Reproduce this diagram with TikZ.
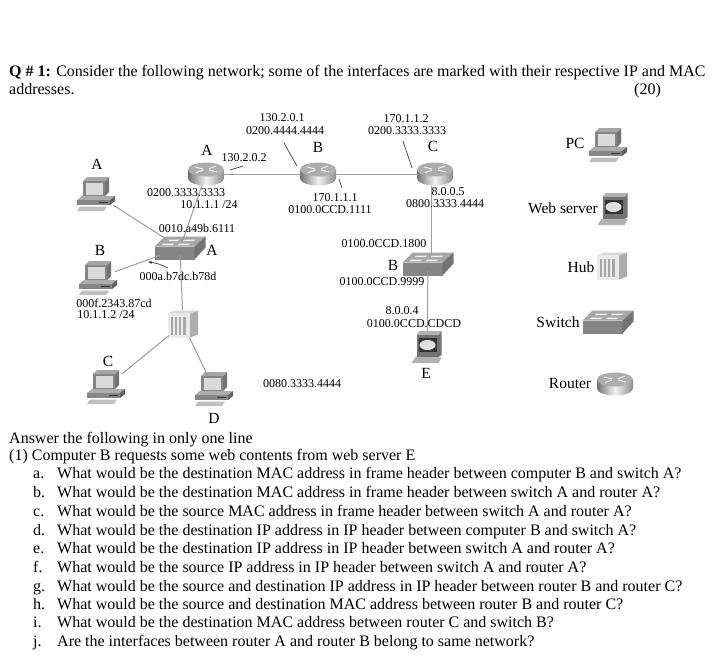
\documentclass[tikz,border=0pt]{standalone}
\usepackage{fontspec}
\setmainfont{Liberation Serif}
\usetikzlibrary{arrows.meta}
\tikzset{
  pcicon/.pic={
    \begin{scope}[shift={(-19,-17)}]
    \fill[black!55] (28,4) -- (32,0) -- (32,15) -- (28,19) -- cycle;
    \fill[black!35] (6,4) -- (10,0) -- (32,0) -- (28,4) -- cycle;
    \fill[black!48] (6,4) rectangle (28,19);
    \fill[black!15] (8.5,6) rectangle (26,17.5);
    \fill[black!32] (0,23) -- (5,19) -- (38,19) -- (33,23) -- cycle;
    \fill[black!48] (0,23) rectangle (33,28);
    \fill[black!62] (33,23) -- (38,19) -- (38,24) -- (33,28) -- cycle;
    \fill[black!80] (22,24.5) rectangle (31,25.5);
    \fill[black!25] (3,29.5) -- (30,29.5) -- (27,34) -- (0,34) -- cycle;
    \end{scope}
  },
  srvicon/.pic={
    \begin{scope}[shift={(-15.5,-16)}]
    \fill[black!55] (27,4) -- (30,0) -- (30,24) -- (27,26) -- cycle;
    \fill[black!30] (5,4) -- (8,0) -- (30,0) -- (27,4) -- cycle;
    \fill[black!55] (5,4) rectangle (27,26);
    \fill[black!80] (7,7) rectangle (25,21);
    \fill[black!12] (16,14) ellipse [x radius=8,y radius=5];
    \fill[black!30] (0,32) -- (4,26) -- (30,26) -- (27,32) -- cycle;
    \end{scope}
  },
  hubicon/.pic={
    \begin{scope}[shift={(-15,-13.5)}]
    \fill[black!32] (22,3) -- (30,0) -- (30,24) -- (22,27) -- cycle;
    \fill[black!15] (0,3) -- (6,0) -- (30,0) -- (22,3) -- cycle;
    \fill[black!8] (0,3) rectangle (22,27);
    \fill[black!35] (3,6) rectangle (18,24);
    \foreach \x in {5,9,13} {
      \fill[black!8] (\x,6) rectangle +(2,18);
    }
    \end{scope}
  },
  swicon/.pic={
    \begin{scope}[shift={(-25.5,-11.5)}]
    \fill[black!48] (0,10) rectangle (40,23);
    \fill[black!35] (0,10) -- (10,0) -- (51,0) -- (40,10) -- cycle;
    \fill[black!55] (40,10) -- (51,0) -- (51,11) -- (40,23) -- cycle;
    \foreach \x/\y in {14/3,30/3,9/7,25/7} {
      \fill[black!5] (\x,\y) -- +(11,0) -- +(9,1.5) -- +(-2,1.5) -- cycle;
    }
    \end{scope}
  },
  rtricon/.pic={
    \shade[left color=black!55,right color=black!45,middle color=black!5]
      (-18,-4.5) -- (-18,4.5) arc [start angle=180,end angle=0,x radius=18,y radius=7]
      -- (18,-4.5) -- cycle;
    \fill[black!32] (0,-4.5) ellipse [x radius=18,y radius=7];
    \draw[black!5,line width=1] (-11,-7) -- (-3,-5) (11,-2) -- (3,-4)
      (-10,-1.5) -- (-3,-3.8) (10,-8) -- (3,-5.5);
  },
  pcbox/.style={minimum width=34,minimum height=26,inner sep=0},
  srvbox/.style={minimum width=26,minimum height=30,inner sep=0},
  hubbox/.style={minimum width=28,minimum height=27,inner sep=0},
  swbox/.style={minimum width=44,minimum height=14,inner sep=0},
  rtrbox/.style={minimum width=34,minimum height=22,inner sep=0}
}
\begin{document}
\begin{tikzpicture}[x=1pt,y=-1pt,
  lbl/.style={inner sep=0,font=\fontsize{12}{13}\selectfont},
  let/.style={inner sep=0,font=\fontsize{15.5}{16}\selectfont},
  txt/.style={inner sep=0,anchor=base west,font=\fontsize{16}{18}\selectfont},
  lnk/.style={draw=black!38,line width=1},
  tck/.style={draw=black!75,line width=0.7}]
\useasboundingbox[fill=white] (0,0) rectangle (720,657);
\foreach \n/\x/\y in {pcA/96/194,pcB/98/278,pcC/106/387,pcD/214/389,lgPC/608/145} {
  \node[pcbox] (\n) at (\x,\y) {};
  \pic at (\n) {pcicon};
}
\foreach \n/\x/\y in {srvE/427/347,lgSrv/613/209} {
  \node[srvbox] (\n) at (\x,\y) {};
  \pic at (\n) {srvicon};
}
\foreach \n/\x/\y in {hubA/183/324,lgHub/612/266} {
  \node[hubbox] (\n) at (\x,\y) {};
  \pic at (\n) {hubicon};
}
\foreach \n/\x/\y in {swA/180/248,swB/428/264,lgSw/608/322} {
  \node[swbox] (\n) at (\x,\y) {};
  \pic at (\n) {swicon};
}
\foreach \n/\x/\y in {rtrA/206/174,rtrB/318/174,rtrC/435/174,lgRtr/615/384} {
  \node[rtrbox] (\n) at (\x,\y) {};
  \pic at (\n) {rtricon};
}
\coordinate (rtrCs) at (431,186);
\coordinate (swBn) at (431,256);
\draw[lnk] (pcA) -- (swA);
\draw[lnk] (pcB) -- (swA);
\draw[lnk] (rtrA) -- (swA);
\draw[lnk] (swA) -- (hubA);
\draw[lnk] (hubA) -- (pcC);
\draw[lnk] (hubA) -- (pcD);
\draw[lnk] (rtrA) -- (rtrB);
\draw[lnk] (rtrB) -- (rtrC);
\draw[lnk] (rtrCs) -- (swBn);
\draw[lnk] (swB) -- (srvE);
\foreach \n/\xa/\ya/\xb/\yb in {tkA/230/170/243/166,tkB/284/143/297/166,tkC/403/141/412/168,tkD/339/179/342/188} {
  \coordinate (\n a) at (\xa,\ya);
  \coordinate (\n b) at (\xb,\yb);
  \draw[tck] (\n a) -- (\n b);
}
\coordinate (arwS) at (168,268);
\coordinate (arwE) at (148,262);
\draw[tck,-{Stealth[length=4]}] (arwS) to[bend right=10] (arwE);
\foreach \n/\x/\y/\t in {%
  la/282/118/130.2.0.1,lb/285/131/0200.4444.4444,lc/406/119/170.1.1.2,ld/407/131/0200.3333.3333,%
  le/244/158/130.2.0.2,lf/186/193/0200.3333.3333,lg/209/205/{10.1.1.1 /24},lh/197/228/0010.a49b.6111,%
  li/178/276/000a.b7dc.b78d,lj/114/303/000f.2343.87cd,lk/106/315/{10.1.1.2 /24},%
  ll/335/198/170.1.1.1,lm/330/210/0100.0CCD.1111,ln/448/192/8.0.0.5,lo/445/204/0800.3333.4444,%
  lp/384/244/0100.0CCD.1800,lq/382/282/0100.0CCD.9999,lr/402/311/8.0.0.4,ls/414/324/0100.0CCD.CDCD,%
  lt/302/384/0080.3333.4444} {
  \node[lbl] (\n) at (\x,\y) {\t};
}
\foreach \n/\x/\y/\t in {%
  ta/207/150/A,tb/318/147/B,tc/433/146/C,td/97/164/A,te/212/250/A,tf/100/250/B,tg/393/265/B,%
  th/108/361/C,ti/214/418/D,tj/426/373/E,%
  lgA/575/143/PC,lgB/563/208/Web server,lgC/581/267/Hub,lgD/558/322/Switch,lgE/570/383/Router} {
  \node[let] (\n) at (\x,\y) {\t};
}
\node[txt] (qa) at (9,76) {\textbf{Q \# 1:} Consider the following network; some of the interfaces are marked with their respective IP and MAC};
\node[txt] (qb) at (9,94) {addresses.};
\node[txt] (qc) at (634,94) {(20)};
\node[txt] (qd) at (9,443) {Answer the following in only one line};
\node[txt] (qe) at (9,460) {(1) Computer B requests some web contents from web server E};
\foreach \n/\y/\t in {%
  a/478/What would be the destination MAC address in frame header between computer B and switch A?,%
  b/497/What would be the destination MAC address in frame header between switch A and router A?,%
  c/516/What would be the source MAC address in frame header between switch A and router A?,%
  d/535/What would be the destination IP address in IP header between computer B and switch A?,%
  e/553/What would be the destination IP address in IP header between switch A and router A?,%
  f/572/What would be the source IP address in IP header between switch A and router A?,%
  g/591/What would be the source and destination IP address in IP header between router B and router C?,%
  h/609/What would be the source and destination MAC address between router B and router C?,%
  i/627/What would be the destination MAC address between router C and switch B?,%
  j/646/Are the interfaces between router A and router B belong to same network?} {
  \node[txt] (m\n) at (33,\y) {\n.};
  \node[txt] (r\n) at (57,\y) {\t};
}
\end{tikzpicture}
\end{document}
